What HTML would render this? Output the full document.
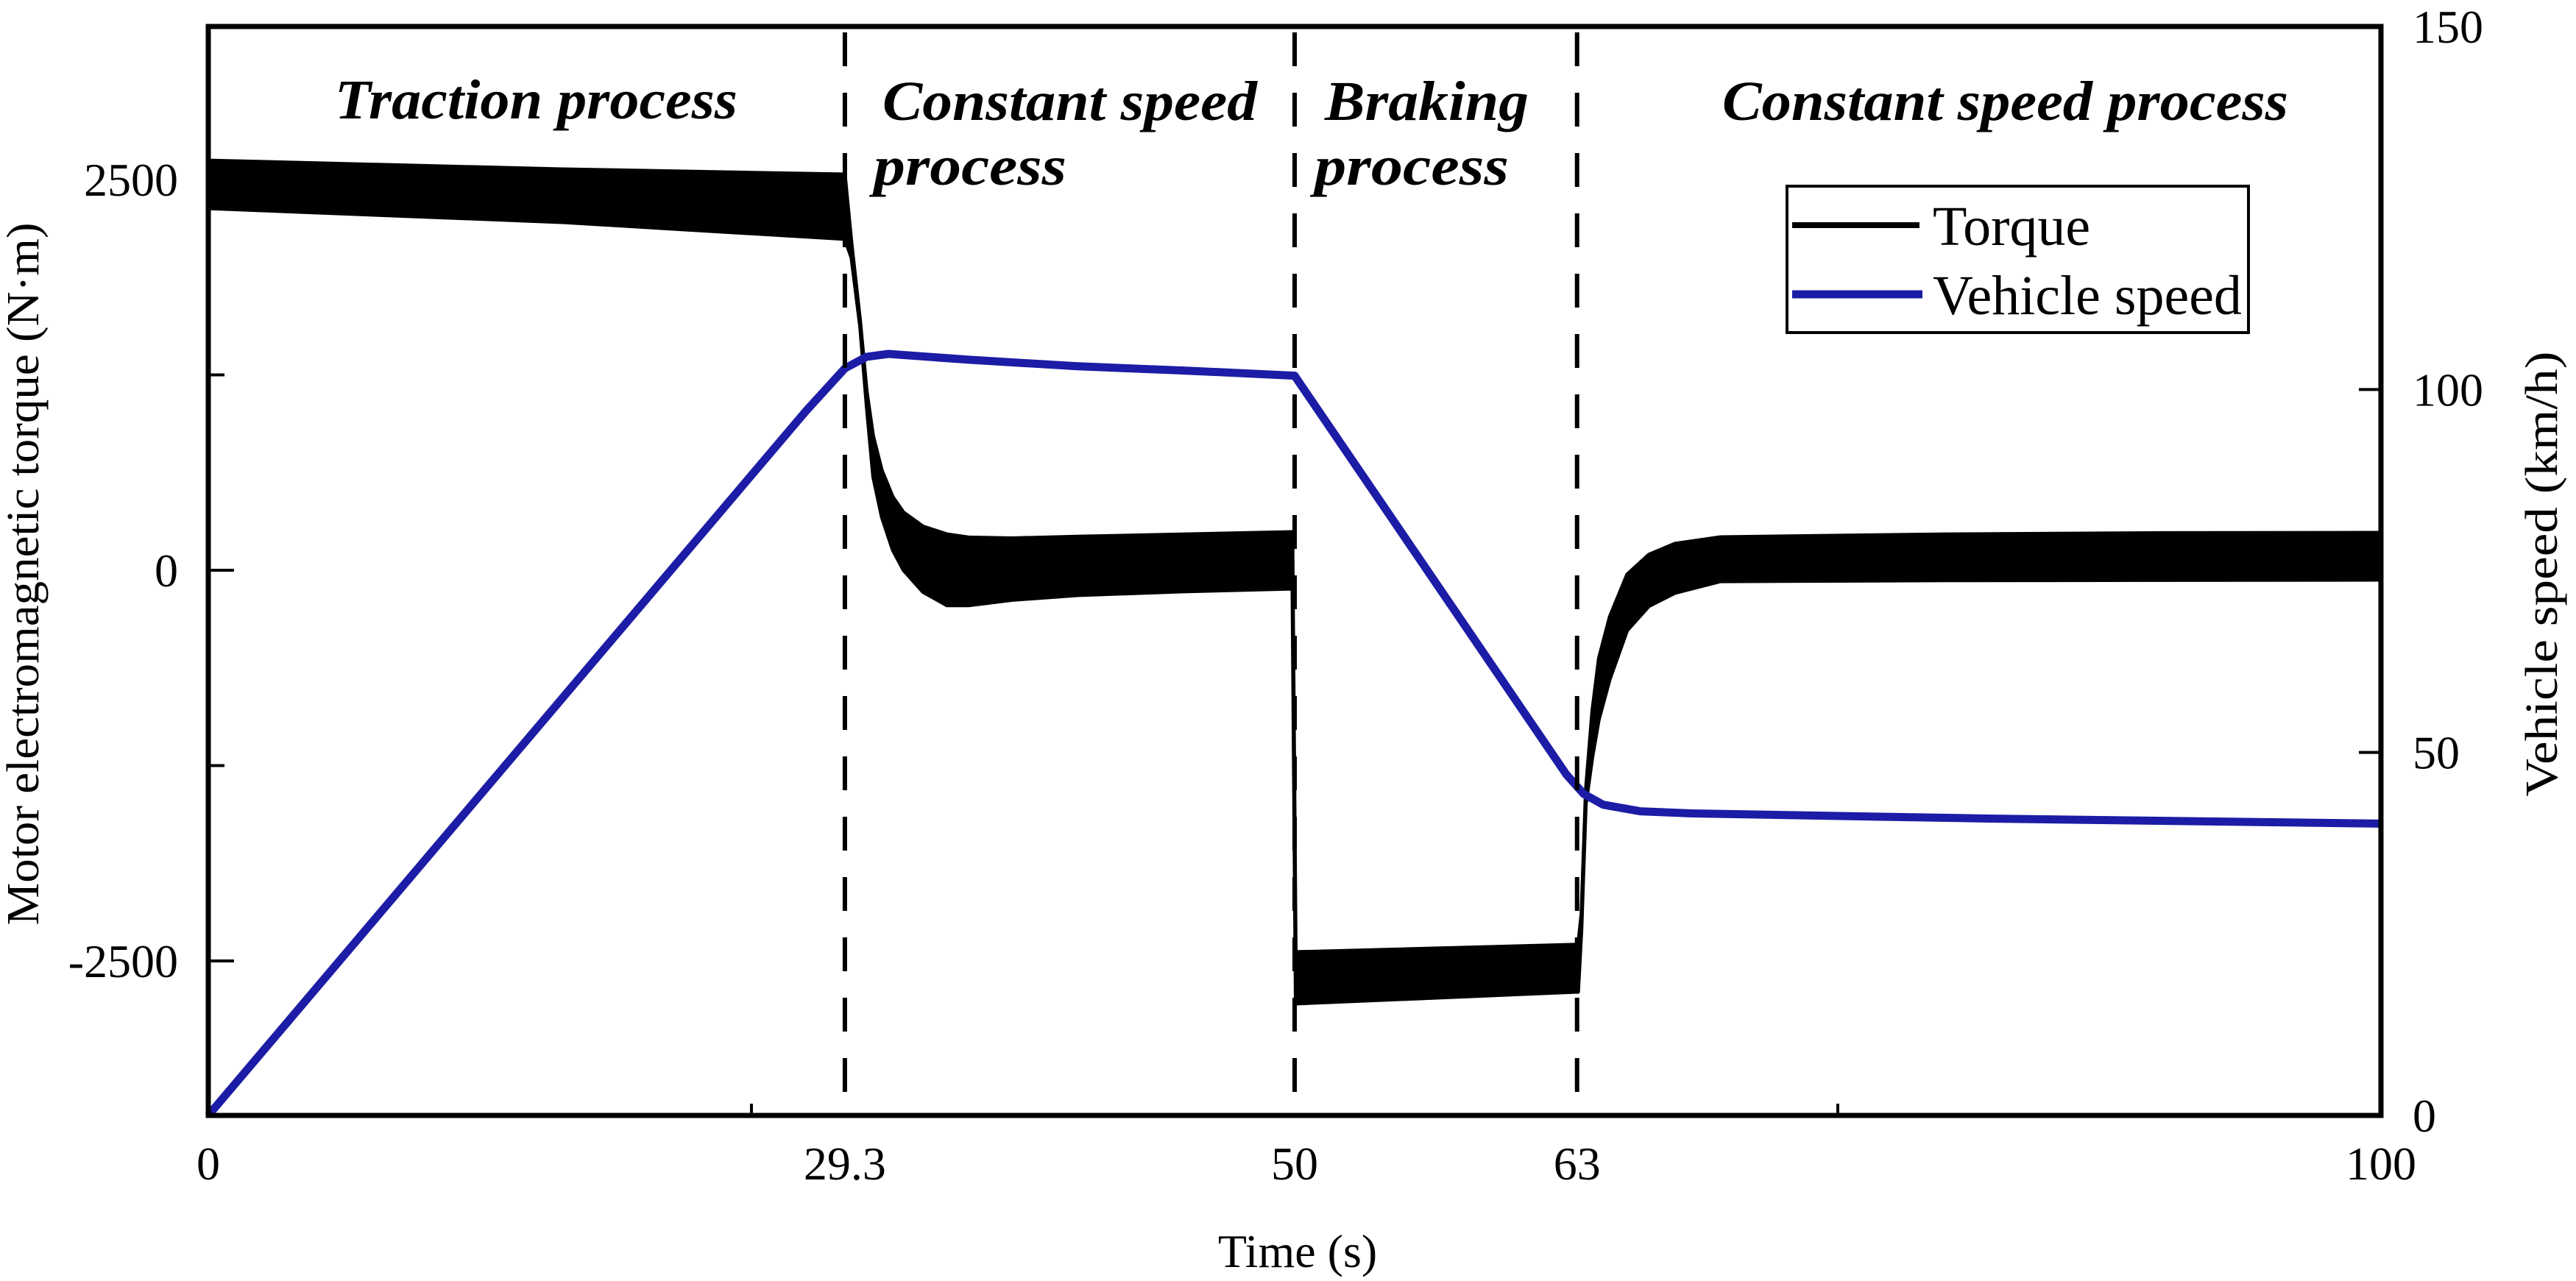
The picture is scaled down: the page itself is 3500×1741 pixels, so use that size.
<!DOCTYPE html>
<html><head><meta charset="utf-8"><style>
html,body{margin:0;padding:0;background:#fff;}
svg{display:block;}
text{font-family:"Liberation Serif",serif;fill:#000;}
</style></head><body>
<svg id="chart" width="3500" height="1741" viewBox="0 0 3500 1741" xmlns="http://www.w3.org/2000/svg">
<g id="marks"></g>
<g id="axes"></g>
<g font-weight="bold" font-style="italic" font-size="76">
<text x="455" y="161" textLength="547" lengthAdjust="spacingAndGlyphs">Traction process</text>
<text x="1199" y="163" textLength="509" lengthAdjust="spacingAndGlyphs">Constant speed</text>
<text x="1187" y="251" textLength="262" lengthAdjust="spacingAndGlyphs">process</text>
<text x="1800" y="163" textLength="277" lengthAdjust="spacingAndGlyphs">Braking</text>
<text x="1786" y="251" textLength="264" lengthAdjust="spacingAndGlyphs">process</text>
<text x="2340" y="163" textLength="769" lengthAdjust="spacingAndGlyphs">Constant speed process</text>
</g>
<g>
<rect x="2428" y="253" width="627" height="199" fill="#fff" stroke="#000" stroke-width="4"/>
<line x1="2435" y1="306" x2="2608" y2="306" stroke="#000" stroke-width="8"/>
<text x="2626" y="333" font-size="76">Torque</text>
<line x1="2435" y1="400" x2="2612" y2="400" stroke="#1c1ca6" stroke-width="11"/>
<text x="2626" y="427" font-size="76">Vehicle speed</text>
</g>
<text x="1763" y="1722" font-size="64" text-anchor="middle">Time (s)</text>
<text transform="translate(52,780) rotate(-90)" font-size="62" text-anchor="middle" textLength="955" lengthAdjust="spacingAndGlyphs">Motor electromagnetic torque (N·m)</text>
<text transform="translate(3474,780) rotate(-90)" font-size="62" text-anchor="middle" textLength="605" lengthAdjust="spacingAndGlyphs">Vehicle speed (km/h)</text>
</svg>
<script>
// Torque band (upper / lower envelope), N·m
const torqueTime  = [0, 16.3, 29.3, 29.6, 30.0, 30.3, 30.6, 31.0, 31.5, 32.0, 32.9, 34.0, 35, 37, 40, 45, 49.9, 50.05, 62.9, 63.05, 63.2, 63.4, 63.7, 64.0, 64.5, 65.3, 66.3, 67.5, 69.6, 80, 90, 100];
const torqueUpper = [2622, 2566, 2533, 2100, 1600, 1150, 860, 640, 470, 370, 280, 230, 210, 205, 215, 230, 245, -2443, -2396, -2396, -2200, -1408, -900, -565, -300, -28, 100, 170, 212, 230, 238, 240];
const torqueLower = [2316, 2227, 2119, 2000, 1560, 1050, 600, 340, 130, 0, -140, -225, -225, -190, -160, -135, -118, -2773, -2698, -2698, -2300, -1500, -1200, -956, -700, -386, -230, -146, -71, -65, -63, -61];
// Vehicle speed, km/h
const speedTime  = [0, 27.5, 29.3, 30.3, 31.3, 35, 40, 45, 50, 62.5, 63.3, 64.2, 65.9, 68.3, 81.9, 100];
const speedValue = [0, 97, 102.9, 104.5, 104.9, 104.1, 103.2, 102.6, 101.9, 47, 44.3, 42.8, 41.9, 41.6, 40.9, 40.2];
// Axes
const xTicks = [0, 29.3, 50, 63, 100];
const xTickLabels = ["0", "29.3", "50", "63", "100"];
const xMinorTicks = [25, 75];
const phaseBoundaries = [29.3, 50, 63];
const leftTicks = [2500, 0, -2500];
const leftMinorTicks = [1250, -1250];
const rightTicks = [0, 50, 100, 150];

const NS = "http://www.w3.org/2000/svg";
const L = 283, R = 3235, T = 36, B = 1516;
const X = t => L + (R - L) * t / 100;
const YT = v => 775 - v * 0.2124;
const YS = s => B - (B - T) * s / 150;
function mk(tag, attrs, parent) {
  const e = document.createElementNS(NS, tag);
  for (const k in attrs) e.setAttribute(k, attrs[k]);
  parent.appendChild(e);
  return e;
}
const marks = document.getElementById('marks');
const axes = document.getElementById('axes');

// torque band
let pts = [];
torqueTime.forEach((t, i) => pts.push(X(t).toFixed(1) + ',' + YT(torqueUpper[i]).toFixed(1)));
for (let i = torqueTime.length - 1; i >= 0; i--) pts.push(X(torqueTime[i]).toFixed(1) + ',' + YT(torqueLower[i]).toFixed(1));
const band = mk('polygon', {points: pts.join(' '), fill: '#000', stroke: '#000', 'stroke-width': 5, 'stroke-linejoin': 'round'}, marks);



// speed line
const sp = speedTime.map((t, i) => X(t).toFixed(1) + ',' + YS(speedValue[i]).toFixed(1)).join(' ');
const sl = mk('polyline', {points: sp, fill: 'none', stroke: '#1c1ca6', 'stroke-width': 11, 'stroke-linejoin': 'round'}, marks);



// phase dashed lines
phaseBoundaries.forEach(t => {
  const d = mk('line', {x1: X(t), x2: X(t), y1: T + 8, y2: B, stroke: '#000', 'stroke-width': 6, 'stroke-dasharray': '46 36'}, axes);
  
  
});

// frame
const fr = mk('rect', {x: L, y: T, width: R - L, height: B - T, fill: 'none', stroke: '#000', 'stroke-width': 7}, axes);



// x ticks
xTicks.forEach((t, i) => {
  const tx = mk('text', {x: X(t), y: 1603, 'font-size': 64, 'text-anchor': 'middle'}, axes);
  tx.textContent = xTickLabels[i];
  
  
});
xMinorTicks.forEach(t => {
  const tk = mk('line', {x1: X(t), x2: X(t), y1: B, y2: B - 16, stroke: '#000', 'stroke-width': 4}, axes);
  
  
});
// left ticks
leftTicks.forEach(v => {
  const tk = mk('line', {x1: L, x2: L + 35, y1: YT(v), y2: YT(v), stroke: '#000', 'stroke-width': 4}, axes);
  
  
  const tx = mk('text', {x: 242, y: YT(v) + 22, 'font-size': 64, 'text-anchor': 'end'}, axes);
  tx.textContent = String(v);
  
  
});
leftMinorTicks.forEach(v => {
  const tk = mk('line', {x1: L, x2: L + 22, y1: YT(v), y2: YT(v), stroke: '#000', 'stroke-width': 4}, axes);
  
  
});
// right ticks
rightTicks.forEach(s => {
  if (s > 0 && s < 150) {
    const tk = mk('line', {x1: R, x2: R - 30, y1: YS(s), y2: YS(s), stroke: '#000', 'stroke-width': 4}, axes);
    
    
  }
  const tx = mk('text', {x: 3278, y: YS(s) + 22, 'font-size': 64}, axes);
  tx.textContent = String(s);
  
  
});
</script>
</body></html>
